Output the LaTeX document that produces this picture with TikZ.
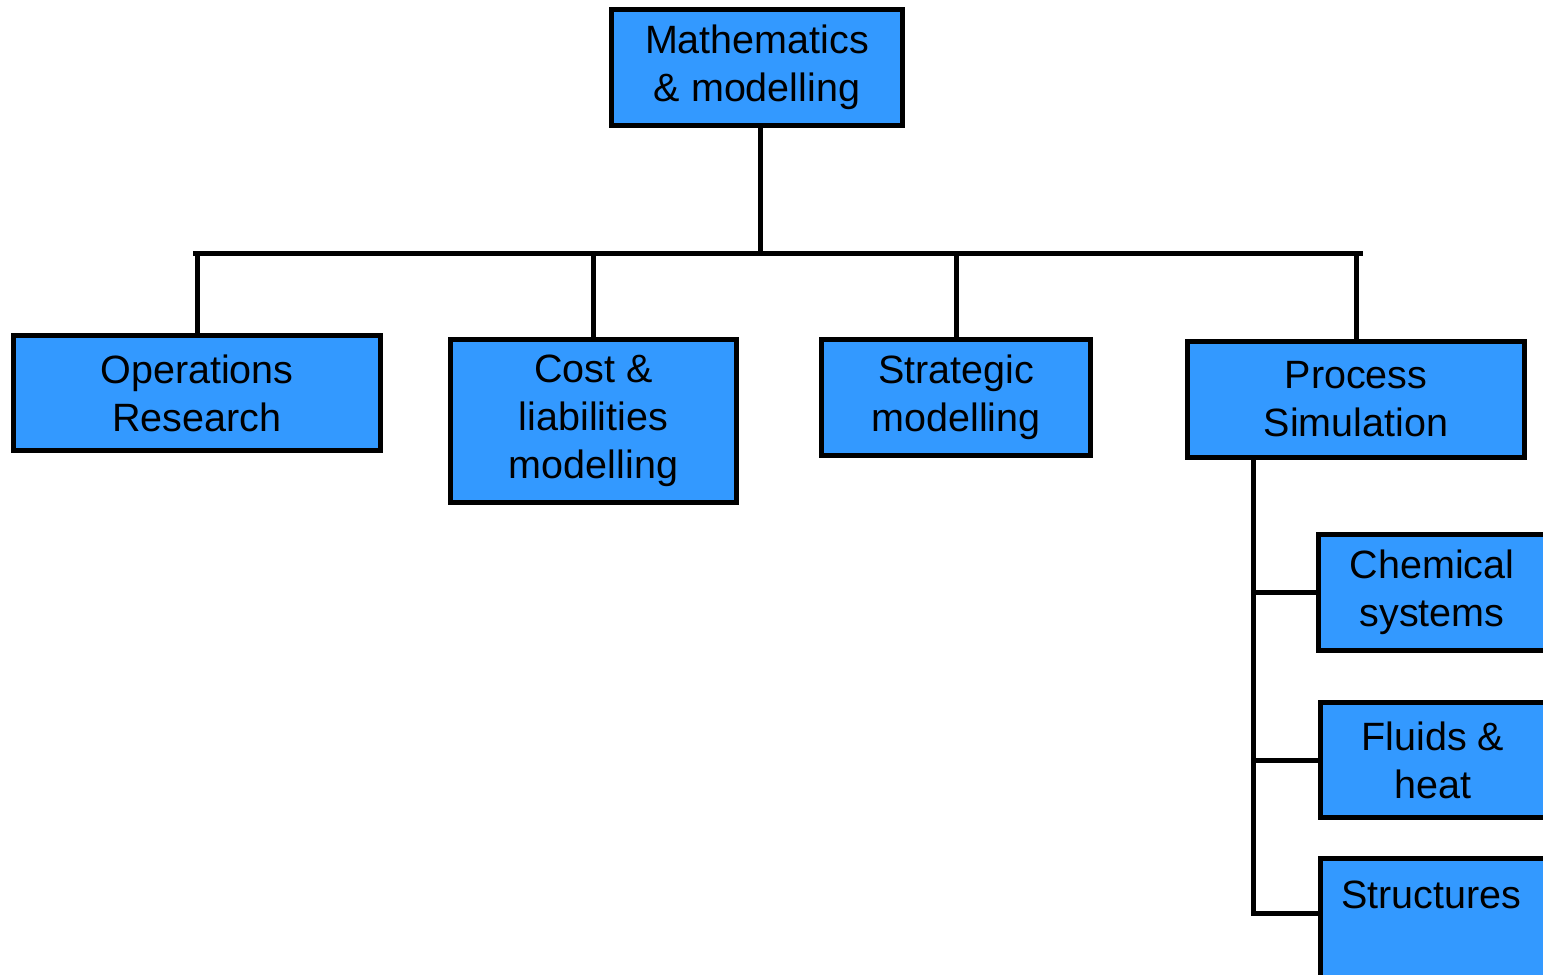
\documentclass[tikz,border=0pt]{standalone}
\usepackage{fontspec}
\setmainfont{Liberation Sans}
\definecolor{boxblue}{HTML}{3399FF}
\tikzset{
  orgbox/.style={draw=black, line width=5pt, fill=boxblue, inner sep=0pt, align=center,
    font=\fontsize{39.5}{48}\selectfont},
  conn/.style={line width=5pt, line cap=rect},
  lbl/.style={inner sep=0pt, font=\fontsize{39.5}{48}\selectfont}
}
\begin{document}
\begin{tikzpicture}[x=1pt,y=-1pt]
\useasboundingbox (0,0) rectangle (1543,975);
\clip (0,0) rectangle (1543,975);
\fill[white] (0,0) rectangle (1543,975);
\node[orgbox, minimum width=291pt, minimum height=116pt] (math) at (757,67.5) {Mathematics\\\& modelling};
\node[orgbox, minimum width=367pt, minimum height=115pt] (ops) at (197,393) {Operations\\Research};
\node[orgbox, minimum width=286pt, minimum height=163pt] (cost) at (593.5,421) {Cost \&\\liabilities\\modelling};
\node[orgbox, minimum width=269pt, minimum height=116pt] (strat) at (956,397.5) {Strategic\\modelling};
\node[orgbox, minimum width=337pt, minimum height=116pt] (proc) at (1356,399.5) {Process\\Simulation};
\node[orgbox, minimum width=227pt, minimum height=116pt] (chem) at (1432,592.5) {Chemical\\systems};
\node[orgbox, minimum width=225pt, minimum height=115pt] (fluid) at (1433,760) {Fluids \&\\heat};
\node[orgbox, minimum width=225pt, minimum height=139pt] (struct) at (1433,928) {};
\node[lbl] (structlbl) at (1431,895) {Structures};
\coordinate (bl) at (195,253);
\coordinate (br) at (1360,253);
\coordinate (mj) at (760,253);
\coordinate (st) at (1253,913);
\draw[conn] (bl) -- (br);
\draw[conn] (math.south -| mj) -- (mj);
\draw[conn] (ops.north |- bl) -- (ops.north);
\draw[conn] (cost.north |- bl) -- (cost.north);
\draw[conn] (strat.north |- bl) -- (strat.north);
\draw[conn] (proc.north |- bl) -- (proc.north);
\draw[conn] (proc.south -| st) -- (st);
\draw[conn] (chem.west -| st) -- (chem.west);
\draw[conn] (fluid.west -| st) -- (fluid.west);
\draw[conn] (st) -- (st -| struct.west);
\end{tikzpicture}
\end{document}
